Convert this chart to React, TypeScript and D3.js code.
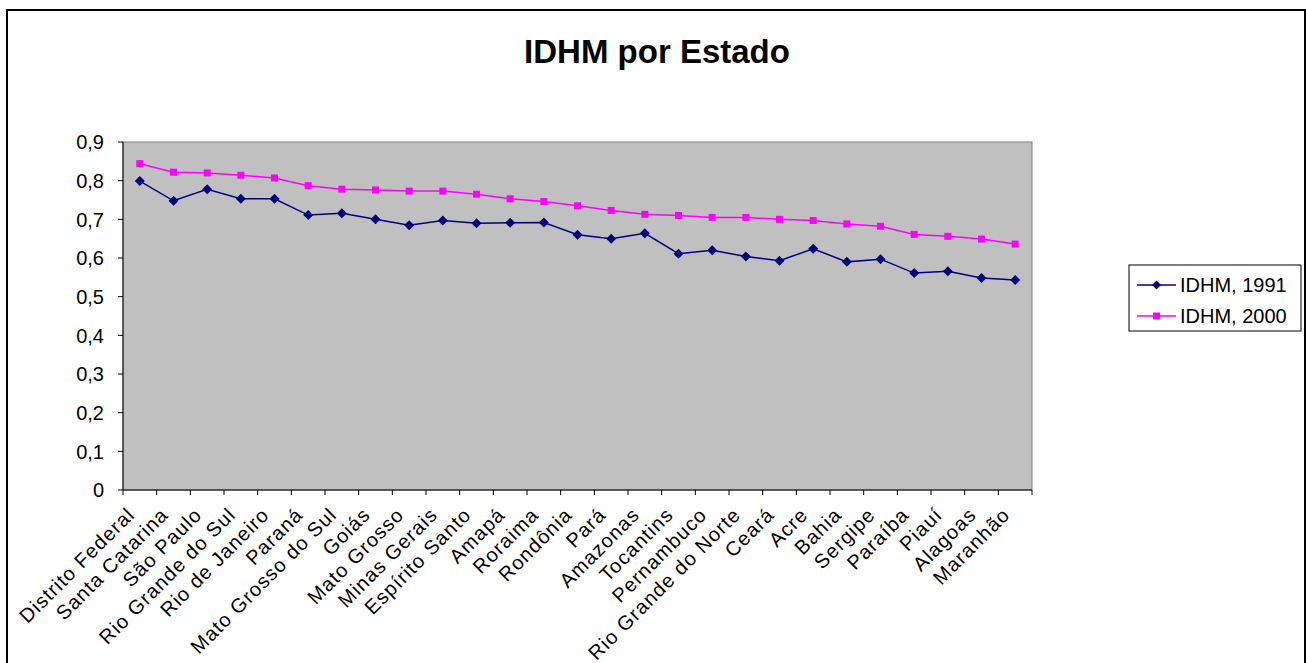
import React from "react";
import * as d3 from "d3";

const states = [
  "Distrito Federal", "Santa Catarina", "São Paulo", "Rio Grande do Sul", "Rio de Janeiro",
  "Paraná", "Mato Grosso do Sul", "Goiás", "Mato Grosso", "Minas Gerais", "Espírito Santo",
  "Amapá", "Roraima", "Rondônia", "Pará", "Amazonas", "Tocantins", "Pernambuco",
  "Rio Grande do Norte", "Ceará", "Acre", "Bahia", "Sergipe", "Paraíba", "Piauí",
  "Alagoas", "Maranhão",
];

const idhm1991 = [
  0.799, 0.748, 0.778, 0.753, 0.753, 0.711, 0.716, 0.700, 0.685, 0.697, 0.690,
  0.691, 0.692, 0.660, 0.650, 0.664, 0.611, 0.620, 0.604, 0.593, 0.624, 0.590,
  0.597, 0.561, 0.566, 0.548, 0.543,
];

const idhm2000 = [
  0.844, 0.822, 0.820, 0.814, 0.807, 0.787, 0.778, 0.776, 0.773, 0.773, 0.765,
  0.753, 0.746, 0.735, 0.723, 0.713, 0.710, 0.705, 0.705, 0.700, 0.697, 0.688,
  0.682, 0.661, 0.656, 0.649, 0.636,
];

const yTicks = [0, 0.1, 0.2, 0.3, 0.4, 0.5, 0.6, 0.7, 0.8, 0.9];

const seriesNames = ["IDHM, 1991", "IDHM, 2000"];
const seriesColors = ["#000080", "#FF00FF"];

const W = 1306;
const H = 663;
const plot = { left: 123, right: 1032, top: 142, bottom: 490 };
const font = "'Liberation Sans', Arial, sans-serif";

export default function App() {
  const x = d3.scaleBand<string>().domain(states).range([plot.left, plot.right]).padding(0);
  const y = d3.scaleLinear().domain([0, 0.9]).range([plot.bottom, plot.top]);
  const cx = (s: string) => (x(s) ?? 0) + x.bandwidth() / 2;

  const line = d3
    .line<number>()
    .x((_, i) => cx(states[i]))
    .y((v) => y(v));

  const diamond = (px: number, py: number, r: number) =>
    `M${px},${py - r}L${px + r},${py}L${px},${py + r}L${px - r},${py}Z`;

  const boundaries = d3.range(states.length + 1).map((i) => plot.left + i * x.bandwidth());

  const legendX = 1129;
  const legendY = 265;

  return (
    <svg
      width={W}
      height={H}
      style={{ position: "absolute", left: 0, top: 0, background: "#fff" }}
      fontFamily={font}
    >
      {/* chart frame */}
      <rect x={7} y={10} width={1298} height={670} fill="#fff" stroke="#000" strokeWidth={2} />

      {/* title */}
      <text x={657} y={63} textAnchor="middle" fontSize={33} fontWeight="bold" fill="#000">
        IDHM por Estado
      </text>

      {/* plot area */}
      <rect
        x={plot.left}
        y={plot.top}
        width={plot.right - plot.left}
        height={plot.bottom - plot.top}
        fill="#C0C0C0"
        stroke="#808080"
        strokeWidth={1}
      />

      {/* y axis */}
      <line x1={plot.left} x2={plot.left} y1={plot.top} y2={plot.bottom} stroke="#000" />
      {yTicks.map((t) => (
        <g key={t}>
          <line x1={plot.left - 5} x2={plot.left} y1={y(t)} y2={y(t)} stroke="#000" />
          <text
            x={104}
            y={y(t)}
            dy="0.36em"
            textAnchor="end"
            fontSize={20}
            fill="#000"
          >
            {String(Math.round(t * 10) / 10).replace(".", ",")}
          </text>
        </g>
      ))}

      {/* x axis */}
      <line x1={plot.left} x2={plot.right} y1={plot.bottom} y2={plot.bottom} stroke="#000" />
      {boundaries.map((bx, i) => (
        <line key={i} x1={bx} x2={bx} y1={plot.bottom} y2={plot.bottom + 5} stroke="#000" />
      ))}
      {states.map((s) => (
        <text
          key={s}
          transform={`translate(${cx(s) - 4},${plot.bottom + 26}) rotate(-45)`}
          textAnchor="end"
          fontSize={20}
          letterSpacing={1.1}
          fill="#000"
        >
          {s}
        </text>
      ))}

      {/* series */}
      <path d={line(idhm1991) ?? ""} fill="none" stroke={seriesColors[0]} strokeWidth={1.5} />
      <path d={line(idhm2000) ?? ""} fill="none" stroke={seriesColors[1]} strokeWidth={1.5} />
      {idhm1991.map((v, i) => (
        <path key={`a${i}`} d={diamond(cx(states[i]), y(v), 5)} fill={seriesColors[0]} />
      ))}
      {idhm2000.map((v, i) => (
        <rect
          key={`b${i}`}
          x={cx(states[i]) - 3.5}
          y={y(v) - 3.5}
          width={7}
          height={7}
          fill={seriesColors[1]}
        />
      ))}

      {/* legend */}
      <rect x={legendX} y={legendY} width={172} height={66} fill="#fff" stroke="#000" strokeWidth={1} />
      {seriesNames.map((name, i) => {
        const ly = legendY + 20 + i * 31;
        return (
          <g key={name}>
            <line x1={legendX + 8} x2={legendX + 47} y1={ly} y2={ly} stroke={seriesColors[i]} strokeWidth={1.5} />
            {i === 0 ? (
              <path d={diamond(legendX + 27.5, ly, 4.5)} fill={seriesColors[i]} />
            ) : (
              <rect x={legendX + 24} y={ly - 3.5} width={7} height={7} fill={seriesColors[i]} />
            )}
            <text x={legendX + 51} y={ly} dy="0.36em" fontSize={20} fill="#000">
              {name}
            </text>
          </g>
        );
      })}
    </svg>
  );
}
